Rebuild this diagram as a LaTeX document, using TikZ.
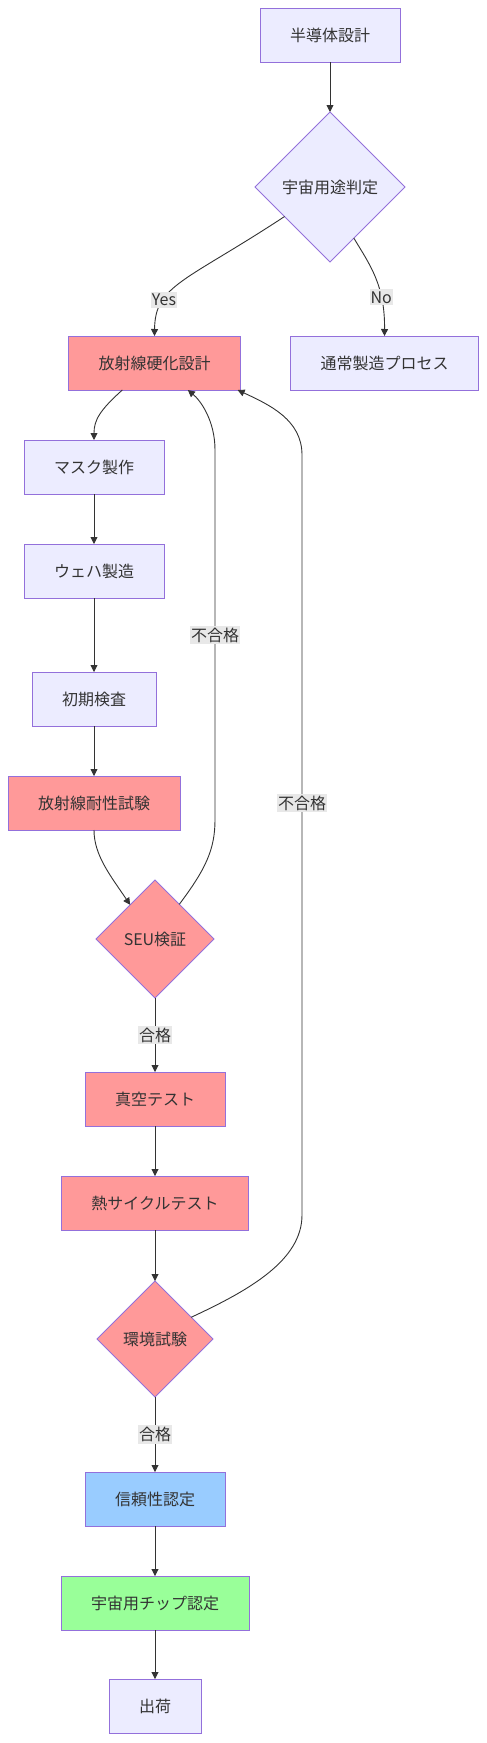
\documentclass[tikz,border=0pt]{standalone}
\usepackage{fontspec}
\setmainfont{Noto Sans CJK JP}
\usetikzlibrary{arrows.meta}
\usetikzlibrary{shapes.geometric}
\usetikzlibrary{positioning}

\definecolor{procfill}{HTML}{ECECFF}
\definecolor{procline}{HTML}{9370DB}
\definecolor{hardfill}{HTML}{FF9999}
\definecolor{certfill}{HTML}{99CCFF}
\definecolor{passfill}{HTML}{99FF99}
\definecolor{edgeline}{HTML}{333333}
\definecolor{tagfill}{HTML}{E8E8E8}

\begin{document}
\begin{tikzpicture}[x=1pt, y=-1pt,
    font=\fontsize{16}{19}\selectfont, text=edgeline,
    box/.style={draw=procline, line width=0.8pt, fill=procfill, rectangle, minimum height=54pt, inner xsep=30pt, inner ysep=0pt, outer sep=0pt},
    check/.style={draw=procline, line width=0.8pt, fill=procfill, diamond, aspect=1, inner sep=0pt, outer sep=0pt, minimum width=118pt, minimum height=118pt},
    hard/.style={fill=hardfill},
    link/.style={draw=edgeline, line width=0.9pt, -{Triangle[length=7pt,width=7pt]}},
    tag/.style={fill=tagfill, inner xsep=1pt, inner ysep=2pt, text=edgeline}]
    \useasboundingbox (0,0) rectangle (487,1743);

    \node [box] (design) at (330,35) {半導体設計};
    \node [check, minimum width=150pt, minimum height=150pt, below=50pt of design] (space) {宇宙用途判定};
    \node [box, hard, below=74pt of space, xshift=-175.5pt] (harden) {放射線硬化設計};
    \node [box, below=74pt of space, xshift=54.5pt] (normal) {通常製造プロセス};
    \node [box, below=50pt of harden, xshift=-60.5pt] (mask) {マスク製作};
    \node [box, below=50pt of mask] (wafer) {ウェハ製造};
    \node [box, below=74pt of wafer] (inspect) {初期検査};
    \node [box, hard, below=50pt of inspect] (radtest) {放射線耐性試験};
    \node [check, hard, below=50pt of radtest, xshift=61pt] (seu) {SEU検証};
    \node [box, hard, below=74pt of seu] (vacuum) {真空テスト};
    \node [box, hard, below=50pt of vacuum] (thermal) {熱サイクルテスト};
    \node [check, hard, minimum width=116pt, minimum height=116pt, below=51pt of thermal] (env) {環境試験};
    \node [box, fill=certfill, below=75pt of env] (reliab) {信頼性認定};
    \node [box, fill=passfill, below=50pt of reliab] (spacechip) {宇宙用チップ認定};
    \node [box, below=49pt of spacechip] (ship) {出荷};

    \draw [link] (design) -- (space);
    \draw [link] (space.213) .. controls (185,282) and (155,285) .. (harden.north) node [tag, pos=0.7] {Yes};
    \draw [link] (space.295) .. controls (370,265) and (385,285) .. (normal.north) node [tag, pos=0.7] {No};
    \draw [link] (harden.220) .. controls (100,410) and (94,420) .. (mask.north);
    \draw [link] (mask) -- (wafer);
    \draw [link] (wafer) -- (inspect);
    \draw [link] (inspect) -- (radtest);
    \draw [link] (radtest.south) .. controls (94,855) and (110,875) .. (seu.126);
    \draw [link] (seu.55) .. controls (205,870) and (215,850) .. (215,820) -- (215,450) node [tag, midway] {不合格} .. controls (215,420) and (200,400) .. (harden.-39);
    \draw [link] (seu) -- (vacuum) node [tag, midway] {合格};
    \draw [link] (vacuum) -- (thermal);
    \draw [link] (thermal) -- (env);
    \draw [link] (env.31) .. controls (250,1290) and (302,1260) .. (302,1215) -- (302,455) node [tag, pos=0.542] {不合格} .. controls (302,420) and (270,405) .. (harden.-18);
    \draw [link] (env) -- (reliab) node [tag, midway] {合格};
    \draw [link] (reliab) -- (spacechip);
    \draw [link] (spacechip) -- (ship);

\end{tikzpicture}
\end{document}
